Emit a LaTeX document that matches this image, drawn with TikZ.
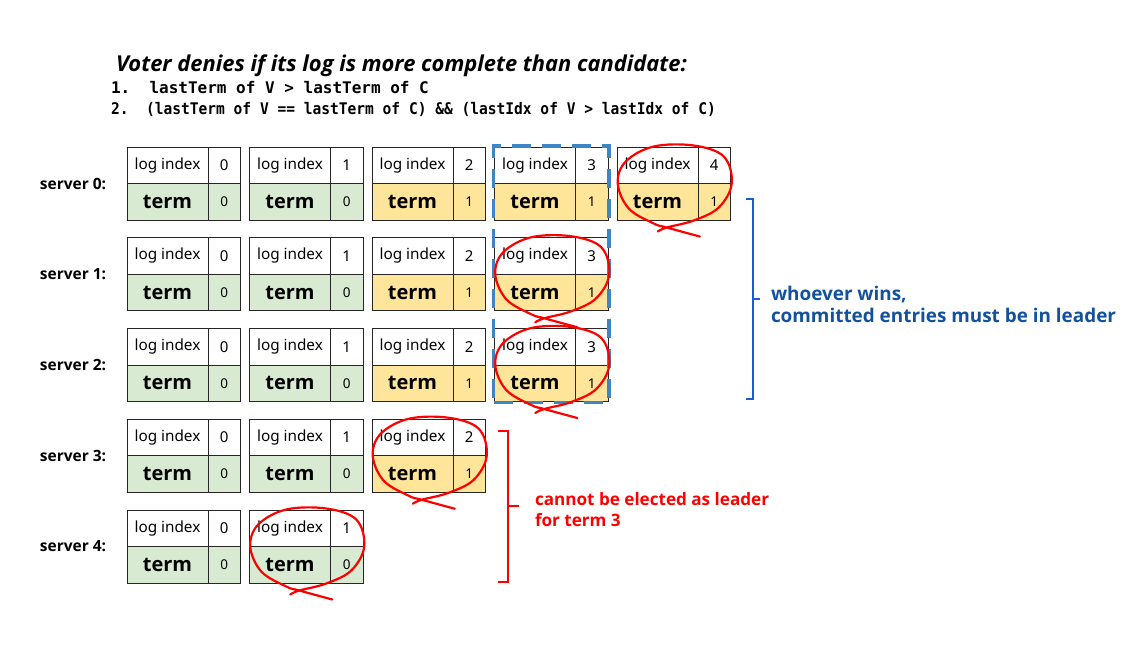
\documentclass[tikz,border=0pt]{standalone}
\usepackage{fontspec}
\setmainfont{Noto Sans}
\newfontfamily\heavysans{Open Sans}
\newfontfamily\codefont{DejaVu Sans Mono}
\newfontfamily\codefontnarrow[FakeStretch=0.91]{DejaVu Sans Mono}
\usepackage{xcolor}
\usetikzlibrary{positioning,calc,fit}

\definecolor{termgreen}{HTML}{D9EAD3}
\definecolor{termyellow}{HTML}{FFE599}
\definecolor{dashblue}{HTML}{3D85C6}
\definecolor{bracketblue}{HTML}{1C5BD6}
\definecolor{noteblue}{HTML}{12519E}
\definecolor{markred}{HTML}{FF0000}

\begin{document}
\begin{tikzpicture}[
    x=1pt, y=-1pt,
    every node/.style={inner sep=0pt, outer sep=0pt},
    namebox/.style={draw=black!85, line width=0.8pt, minimum width=81pt,
                    minimum height=36.5pt, anchor=north west, font=\fontsize{15.3}{17}\selectfont},
    numbox/.style={draw=black!85, line width=0.8pt, minimum width=32.5pt,
                   minimum height=36.5pt, anchor=north west, font=\fontsize{15}{17}\selectfont},
    termfont/.style={font=\fontsize{20}{22}\heavysans\bfseries},
    srvlabel/.style={font=\fontsize{15.5}{18}\heavysans\bfseries},
    redbracket/.style={draw=markred, line width=2pt},
    bluebracket/.style={draw=bracketblue, line width=2pt},
    scribble/.pic={
      \draw[markred, line width=2.2pt, line cap=round]
        plot[smooth, tension=0.6] coordinates {(-16,48) (-7,44) (20,37) (45,24) (58,0)
          (50,-27) (20,-38) (-20,-37) (-48,-22) (-56,0) (-45,25) (-20,40) (-7,44) (26,53)};
    },
  ]
  \useasboundingbox (0,0) rectangle (1143,648);

  % rule in the title
  \node[anchor=west, font=\fontsize{21.9}{24}\heavysans\bfseries\itshape] (rule) at (116,66)
    {Voter denies if its log is more complete than candidate:};
  \node[anchor=west, font=\fontsize{16}{18}\codefont\bfseries] (cond1) at (111,88)
    {1.~~lastTerm of V > lastTerm of C};
  \node[anchor=west, font=\fontsize{16}{18}\codefontnarrow\bfseries] (cond2) at (111,109)
    {2.~~(lastTerm of V == lastTerm of C) \&\& (lastIdx of V > lastIdx of C)};

  % server labels
  \foreach \r in {0,...,4}
    \node[srvlabel] (srv\r) at (73,{183.5+90.75*\r}) {server \r:};

  % log entries: row/column/colour/term
  \foreach \r/\c/\f/\t in {0/0/termgreen/0, 0/1/termgreen/0, 0/2/termyellow/1, 0/3/termyellow/1, 0/4/termyellow/1,
                            1/0/termgreen/0, 1/1/termgreen/0, 1/2/termyellow/1, 1/3/termyellow/1,
                            2/0/termgreen/0, 2/1/termgreen/0, 2/2/termyellow/1, 2/3/termyellow/1,
                            3/0/termgreen/0, 3/1/termgreen/0, 3/2/termyellow/1,
                            4/0/termgreen/0, 4/1/termgreen/0} {
    \node[namebox] (idx\r\c) at ({127+122.5*\c},{147+90.75*\r}) {log index};
    \node[numbox] (idxv\r\c) at (idx\r\c.north east) {\c};
    \node[namebox, fill=\f, termfont] (term\r\c) at (idx\r\c.south west) {term};
    \node[numbox, fill=\f, font=\fontsize{13.5}{15}\selectfont] (termv\r\c) at (term\r\c.north east) {\t};
  }

  % entries that any leader must hold
  \node[draw=dashblue, line width=3.5pt, dash pattern=on 19pt off 11pt, inner sep=1pt,
        fit=(idx03)(termv23)] (leaderset) {};

  % candidates that lose against a more complete voter
  \foreach \r/\c in {0/4, 1/3, 2/3, 3/2, 4/1}
    \pic at ($(idx\r\c.north west)!0.5!(termv\r\c.south east)$) {scribble};

  % brackets and notes
  \draw[bluebracket] (746,198.5) -- (753,198.5) -- (753,399) -- (746,399);
  \draw[bluebracket] (753,298.5) -- (760,298.5);
  \node[anchor=west, align=left, text=noteblue, font=\fontsize{18.9}{22}\heavysans\bfseries] (winnote) at (771,304)
    {whoever wins,\\committed entries must be in leader};

  \draw[redbracket] (498,430.7) -- (508,430.7) -- (508,581.7) -- (498,581.7);
  \draw[redbracket] (508,505.7) -- (519,505.7);
  \node[anchor=west, align=left, text=markred, font=\fontsize{17.1}{21}\heavysans\bfseries] (losenote) at (535,509.5)
    {cannot be elected as leader\\for term 3};
\end{tikzpicture}
\end{document}
